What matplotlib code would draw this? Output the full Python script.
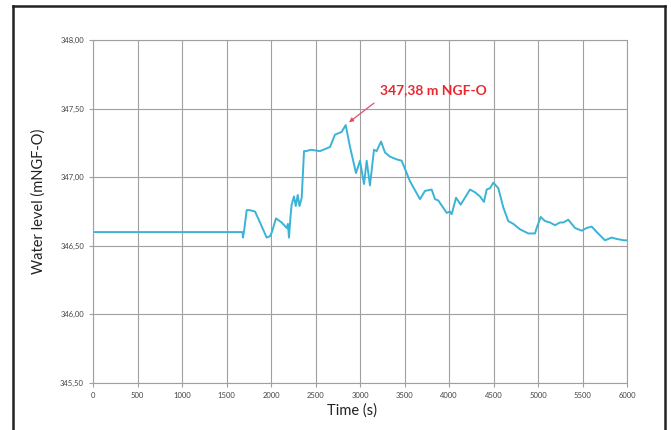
import matplotlib
matplotlib.use("Agg")
import matplotlib.pyplot as plt
from matplotlib.lines import Line2D
from matplotlib.ticker import FuncFormatter, MultipleLocator

time_s = [0, 1680, 1685, 1700, 1727, 1760, 1820, 1870, 1951, 1989, 2010, 2056,
          2120, 2176, 2190, 2202, 2220, 2232, 2258, 2278, 2300, 2320, 2345, 2371,
          2393, 2450, 2550, 2663, 2719, 2794, 2839, 2888, 2955, 3000, 3045, 3075,
          3112, 3157, 3187, 3236, 3281, 3337, 3412, 3468, 3562, 3674, 3730, 3805,
          3843, 3880, 3974, 4011, 4030, 4079, 4131, 4236, 4292, 4348, 4393, 4423,
          4461, 4498, 4554, 4610, 4666, 4722, 4798, 4891, 4966, 4985, 5030, 5079,
          5135, 5191, 5247, 5284, 5340, 5416, 5491, 5547, 5603, 5660, 5753, 5828,
          5884, 5966, 6000]
water_level = [346.60, 346.60, 346.56, 346.62, 346.76, 346.76, 346.75, 346.68, 346.56, 346.57, 346.60, 346.70,
               346.67, 346.63, 346.66, 346.56, 346.72, 346.80, 346.86, 346.79, 346.87, 346.79, 346.85, 347.19,
               347.19, 347.20, 347.19, 347.22, 347.31, 347.33, 347.38, 347.22, 347.03, 347.12, 346.95, 347.12,
               346.94, 347.20, 347.19, 347.26, 347.18, 347.15, 347.13, 347.12, 346.97, 346.84, 346.90, 346.91,
               346.84, 346.83, 346.74, 346.75, 346.73, 346.85, 346.80, 346.91, 346.89, 346.86, 346.82, 346.91,
               346.92, 346.96, 346.92, 346.78, 346.68, 346.66, 346.62, 346.59, 346.59, 346.63, 346.71, 346.68,
               346.67, 346.65, 346.67, 346.67, 346.69, 346.63, 346.61, 346.63, 346.64, 346.60, 346.54, 346.56,
               346.55, 346.54, 346.54]

peak_label = "347,38 m NGF-O"

x_ticks = list(range(0, 6001, 500))
y_min, y_max = 345.5, 348.0

plt.rcParams['font.family'] = ['Lato', 'DejaVu Sans']

fig = plt.figure(figsize=(6.71, 4.30), dpi=100)
ax = fig.add_axes([93/671, 1 - 383/430, (627-93)/671, (383-40)/430])

ax.plot(time_s, water_level, color='#3bb3d6', lw=1.4)

ax.set_xlim(0, 6000)
ax.set_ylim(y_min, y_max)
ax.set_xticks(x_ticks)
ax.yaxis.set_major_locator(MultipleLocator(0.5))
ax.yaxis.set_major_formatter(FuncFormatter(lambda v, p: f"{v:.2f}".replace('.', ',')))
ax.grid(True, color='#a0a0a0', lw=0.8)
for s in ax.spines.values():
    s.set_color('#a0a0a0')
    s.set_linewidth(0.8)
ax.tick_params(axis='both', labelsize=5.5, colors='#a0a0a0', labelcolor='#444444', length=3, width=0.8)

ax.set_xlabel("Time (s)", fontsize=10.5, color='#222222')
ax.xaxis.set_label_coords((352-93)/(627-93), -(403-383)/(383-40))
ax.set_ylabel("Water level (mNGF-O)", fontsize=10.5, color='#222222')
ax.yaxis.set_label_coords(-(93-46)/(627-93), (383-201)/(383-40))

ax.text(3225, 347.635, peak_label, fontsize=10, fontweight='bold', color='#e8282f',
        va='center', ha='left')
ax.annotate("", xy=(2876, 347.40), xytext=(3157, 347.54),
            arrowprops=dict(arrowstyle='-|>', color='#e0506a', lw=0.9,
                            shrinkA=0, shrinkB=0, mutation_scale=6))

# outer frame
frame_color = '#222222'
fig.add_artist(Line2D([13/671, 13/671], [0, 1 - 6/430], transform=fig.transFigure, color=frame_color, lw=1.8))
fig.add_artist(Line2D([13/671, 665/671], [1 - 6/430, 1 - 6/430], transform=fig.transFigure, color=frame_color, lw=1.8))
fig.add_artist(Line2D([665/671, 665/671], [0, 1 - 6/430], transform=fig.transFigure, color=frame_color, lw=1.8))

fig.savefig("out.png", dpi=100)
